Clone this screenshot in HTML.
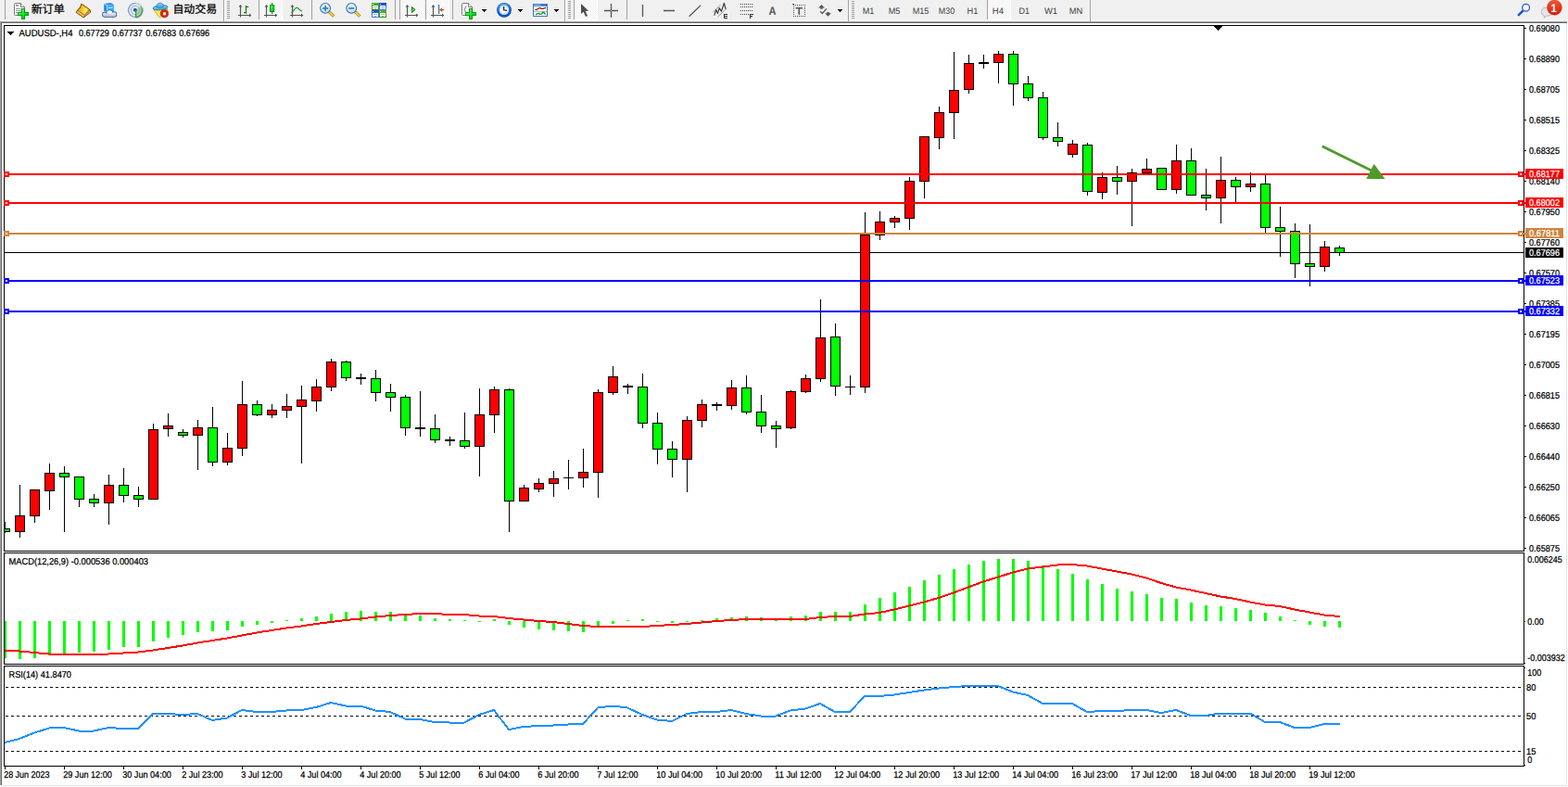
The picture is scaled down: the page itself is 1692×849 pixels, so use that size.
<!DOCTYPE html><html><head><meta charset="utf-8"><title>AUDUSD H4</title><style>html,body{margin:0;padding:0;background:#fff}body{width:1692px;height:849px;overflow:hidden;position:relative}svg{position:absolute;left:0;top:0;display:block}text{font-family:"Liberation Sans",sans-serif;white-space:pre;text-rendering:geometricPrecision}</style></head><body>
<svg width="1692" height="849" viewBox="0 0 1692 849">
<g shape-rendering="crispEdges">
<rect x="0" y="0" width="1692" height="849" fill="#fff"/>
<rect x="0" y="0" width="1692" height="21" fill="#f0f0f0"/>
<rect x="0" y="21" width="1692" height="2" fill="#f4f4f4"/>
<rect x="0" y="23" width="1691" height="1" fill="#a0a0a0"/>
<rect x="1" y="24" width="1690" height="1" fill="#696969"/>
<rect x="0" y="24" width="1" height="823" fill="#a0a0a0"/>
<rect x="1" y="25" width="1" height="822" fill="#696969"/>
<rect x="1690" y="25" width="1" height="823" fill="#e3e3e3"/>
<rect x="2" y="847" width="1689" height="1" fill="#e3e3e3"/>
<rect x="4" y="27" width="1641" height="1" fill="#000"/>
<rect x="4" y="594" width="1641" height="1" fill="#000"/>
<rect x="4" y="27" width="1" height="568" fill="#000"/>
<rect x="1644" y="27" width="1" height="568" fill="#000"/>
<rect x="4" y="596" width="1641" height="1" fill="#000"/>
<rect x="4" y="716" width="1641" height="1" fill="#000"/>
<rect x="4" y="596" width="1" height="121" fill="#000"/>
<rect x="1644" y="596" width="1" height="121" fill="#000"/>
<rect x="4" y="718" width="1641" height="1" fill="#000"/>
<rect x="4" y="826" width="1641" height="1" fill="#000"/>
<rect x="4" y="718" width="1" height="109" fill="#000"/>
<rect x="1644" y="718" width="1" height="109" fill="#000"/>
</g>
<defs>
<linearGradient id="gplus" x1="0" y1="0" x2="1" y2="1"><stop offset="0" stop-color="#9dffa0"/><stop offset="0.5" stop-color="#12e832"/><stop offset="1" stop-color="#00b414"/></linearGradient>
<linearGradient id="ggold" x1="0" y1="0.3" x2="1" y2="0.5"><stop offset="0" stop-color="#e6ac10"/><stop offset="0.45" stop-color="#f4cc28"/><stop offset="0.8" stop-color="#fff27a"/><stop offset="1" stop-color="#f0c430"/></linearGradient>
<linearGradient id="gcloud" gradientUnits="userSpaceOnUse" x1="0" y1="11.5" x2="0" y2="18.4"><stop offset="0" stop-color="#ffffff"/><stop offset="0.35" stop-color="#eef1f7"/><stop offset="1" stop-color="#9fb0d0"/></linearGradient>
<linearGradient id="gred" x1="0" y1="0" x2="0" y2="1"><stop offset="0" stop-color="#ea5a36"/><stop offset="1" stop-color="#d81c08"/></linearGradient>
<linearGradient id="glens" x1="0" y1="0" x2="0" y2="1"><stop offset="0" stop-color="#eef7fd"/><stop offset="1" stop-color="#b9dcf2"/></linearGradient>
<linearGradient id="gclock" x1="0.3" y1="0" x2="0.5" y2="1"><stop offset="0" stop-color="#56b4ff"/><stop offset="0.5" stop-color="#1470e0"/><stop offset="1" stop-color="#0a50c0"/></linearGradient>
<linearGradient id="ghat" x1="0" y1="0" x2="0" y2="1"><stop offset="0" stop-color="#8fd2f4"/><stop offset="1" stop-color="#3fa0dc"/></linearGradient>
<linearGradient id="gyel" x1="0" y1="0" x2="1" y2="1"><stop offset="0" stop-color="#f8d838"/><stop offset="1" stop-color="#fff888"/></linearGradient>
<linearGradient id="ggrn2" x1="0" y1="0" x2="0" y2="1"><stop offset="0" stop-color="#56b030"/><stop offset="1" stop-color="#2f8c14"/></linearGradient>
<linearGradient id="gblu2" x1="0" y1="0" x2="0" y2="1"><stop offset="0" stop-color="#1848c8"/><stop offset="1" stop-color="#4c86ec"/></linearGradient>
<pattern id="chk" width="2" height="2" patternUnits="userSpaceOnUse"><rect width="2" height="2" fill="#ffffff"/><rect width="1" height="1" fill="#f0f0f0"/><rect x="1" y="1" width="1" height="1" fill="#f0f0f0"/></pattern>
<radialGradient id="gsweep" cx="0" cy="0" r="1"><stop offset="0" stop-color="#2aa02a" stop-opacity="0.15"/><stop offset="1" stop-color="#2aa02a" stop-opacity="0.75"/></radialGradient>
</defs>
<g shape-rendering="crispEdges">
<rect x="279" y="0" width="1" height="21" fill="#a0a0a0"/>
<rect x="336" y="0" width="1" height="21" fill="#a0a0a0"/>
<rect x="431" y="0" width="1" height="21" fill="#a0a0a0"/>
<rect x="459" y="0" width="1" height="21" fill="#a0a0a0"/>
<rect x="488" y="0" width="1" height="21" fill="#a0a0a0"/>
<rect x="619" y="0" width="1" height="21" fill="#a0a0a0"/>
<rect x="676" y="0" width="1" height="21" fill="#a0a0a0"/>
<rect x="1065" y="0" width="1" height="21" fill="#a0a0a0"/>
<rect x="5" y="0" width="1" height="21" fill="#a0a0a0"/>
<rect x="426" y="0" width="1" height="21" fill="#a0a0a0"/>
<rect x="241" y="0" width="1" height="23" fill="#a0a0a0"/>
<rect x="242" y="0" width="1" height="23" fill="#ffffff"/>
<rect x="609" y="0" width="1" height="23" fill="#a0a0a0"/>
<rect x="610" y="0" width="1" height="23" fill="#ffffff"/>
<rect x="915" y="0" width="1" height="23" fill="#a0a0a0"/>
<rect x="916" y="0" width="1" height="23" fill="#ffffff"/>
<rect x="1176" y="0" width="1" height="23" fill="#a0a0a0"/>
<rect x="1177" y="0" width="1" height="23" fill="#ffffff"/>
<rect x="245" y="1" width="3" height="1" fill="#a0a0a0"/>
<rect x="245" y="3" width="3" height="1" fill="#a0a0a0"/>
<rect x="245" y="5" width="3" height="1" fill="#a0a0a0"/>
<rect x="245" y="7" width="3" height="1" fill="#a0a0a0"/>
<rect x="245" y="9" width="3" height="1" fill="#a0a0a0"/>
<rect x="245" y="11" width="3" height="1" fill="#a0a0a0"/>
<rect x="245" y="13" width="3" height="1" fill="#a0a0a0"/>
<rect x="245" y="15" width="3" height="1" fill="#a0a0a0"/>
<rect x="245" y="17" width="3" height="1" fill="#a0a0a0"/>
<rect x="245" y="19" width="3" height="1" fill="#a0a0a0"/>
<rect x="613" y="1" width="3" height="1" fill="#a0a0a0"/>
<rect x="613" y="3" width="3" height="1" fill="#a0a0a0"/>
<rect x="613" y="5" width="3" height="1" fill="#a0a0a0"/>
<rect x="613" y="7" width="3" height="1" fill="#a0a0a0"/>
<rect x="613" y="9" width="3" height="1" fill="#a0a0a0"/>
<rect x="613" y="11" width="3" height="1" fill="#a0a0a0"/>
<rect x="613" y="13" width="3" height="1" fill="#a0a0a0"/>
<rect x="613" y="15" width="3" height="1" fill="#a0a0a0"/>
<rect x="613" y="17" width="3" height="1" fill="#a0a0a0"/>
<rect x="613" y="19" width="3" height="1" fill="#a0a0a0"/>
<rect x="919" y="1" width="3" height="1" fill="#a0a0a0"/>
<rect x="919" y="3" width="3" height="1" fill="#a0a0a0"/>
<rect x="919" y="5" width="3" height="1" fill="#a0a0a0"/>
<rect x="919" y="7" width="3" height="1" fill="#a0a0a0"/>
<rect x="919" y="9" width="3" height="1" fill="#a0a0a0"/>
<rect x="919" y="11" width="3" height="1" fill="#a0a0a0"/>
<rect x="919" y="13" width="3" height="1" fill="#a0a0a0"/>
<rect x="919" y="15" width="3" height="1" fill="#a0a0a0"/>
<rect x="919" y="17" width="3" height="1" fill="#a0a0a0"/>
<rect x="919" y="19" width="3" height="1" fill="#a0a0a0"/>
<rect x="280" y="0" width="24" height="21" fill="url(#chk)"/>
<rect x="304" y="0" width="1" height="22" fill="#fff"/>
<rect x="279" y="21" width="25" height="1" fill="#fff"/>
<rect x="432" y="0" width="24" height="21" fill="url(#chk)"/>
<rect x="456" y="0" width="1" height="22" fill="#fff"/>
<rect x="431" y="21" width="25" height="1" fill="#fff"/>
<rect x="460" y="0" width="24" height="21" fill="url(#chk)"/>
<rect x="484" y="0" width="1" height="22" fill="#fff"/>
<rect x="459" y="21" width="25" height="1" fill="#fff"/>
<rect x="620" y="0" width="24" height="21" fill="url(#chk)"/>
<rect x="644" y="0" width="1" height="22" fill="#fff"/>
<rect x="619" y="21" width="25" height="1" fill="#fff"/>
<rect x="1066" y="0" width="24" height="21" fill="url(#chk)"/>
<rect x="1090" y="0" width="1" height="22" fill="#fff"/>
<rect x="1065" y="21" width="25" height="1" fill="#fff"/>
</g>
<path d="M16.5,3.5 H22.5 L26.5,7.5 V15.5 Q26.5,16.5 25.5,16.5 H16.5 Q15.5,16.5 15.5,15.5 V4.5 Q15.5,3.5 16.5,3.5 Z" fill="#fff" stroke="#7a7a7a" stroke-width="1"/>
<path d="M22.5,3.5 V7.5 H26.5" fill="#f4f4f4" stroke="#7a7a7a" stroke-width="1"/>
<rect x="17" y="5" width="3" height="1.6" fill="#8a8a8a"/>
<rect x="17" y="9" width="5.5" height="0.9" fill="#8a8a8a"/>
<rect x="17" y="11" width="5.5" height="0.9" fill="#8a8a8a"/>
<rect x="17" y="13" width="5.5" height="0.9" fill="#8a8a8a"/>
<path d="M23,9 h4 v4 h4 v4 h-4 v4 h-4 v-4 h-4 v-4 h4 z" fill="#049a08"/>
<path d="M24,10 h2 v4 h4 v2 h-4 v4 h-2 v-4 h-4 v-2 h4 z" fill="url(#gplus)"/>
<text x="33.7" y="14.1" font-size="12" fill="#000" stroke="#000" stroke-width="0.26" textLength="36" lengthAdjust="spacingAndGlyphs" style="font-family:'Liberation Sans','Noto Sans CJK SC',sans-serif">新订单</text>
<text x="186.4" y="14.1" font-size="11.95" fill="#000" stroke="#000" stroke-width="0.26" textLength="47.8" lengthAdjust="spacingAndGlyphs" style="font-family:'Liberation Sans','Noto Sans CJK SC',sans-serif">自动交易</text>
<path d="M87.9,4.2 L96.8,10.4 L97.8,12.9 L90.3,18.7 L82.2,13.2 L83.4,11.4 L86.4,8.2 Z" fill="#b07a14" stroke="#96580a" stroke-width="1.1" stroke-linejoin="round"/>
<path d="M88.3,5.2 L95.8,10.5 L91.2,15.6 L84.4,11.2 L87.2,8.4 Z" fill="url(#ggold)"/>
<path d="M83.7,12.1 L90.8,16.8 L90.1,18 L83,13.2 Z" fill="#fbe7a0"/>
<path d="M83.3,12.9 L90.3,17.6" stroke="#e0a830" stroke-width="0.7" fill="none"/>
<path d="M91.7,16.7 L96.5,11.8 L97,12.9 L91.1,17.8 Z" fill="#e6d49a"/>
<path d="M91.5,17.3 L96.8,12.4" stroke="#a8843c" stroke-width="0.5" fill="none"/>
<path d="M112.2,4 L115.6,5.8 V13 L112.2,12 Z" fill="#0a8ef0"/>
<path d="M112.2,4 L119.5,3.1 L122.9,5 L115.6,5.8 Z" fill="#4a7ee0"/>
<path d="M115.6,5.8 L122.9,5 V13 H115.6 Z" fill="#2cacff"/>
<path d="M112.5,4.3 L115.6,6 V13" fill="none" stroke="#dff2ff" stroke-width="0.8"/>
<rect x="117" y="7.8" width="4.6" height="1" fill="#e8f6ff"/>
<g fill="#46609a"><circle cx="113" cy="15.8" r="2.95"/><circle cx="118.3" cy="14.3" r="3.85"/><circle cx="123" cy="15.6" r="3.25"/><rect x="112.8" y="15.5" width="10.4" height="3.35"/></g>
<g fill="url(#gcloud)"><circle cx="113" cy="15.8" r="2.15"/><circle cx="118.3" cy="14.3" r="3.05"/><circle cx="123" cy="15.6" r="2.4499999999999997"/><rect x="112.8" y="15.5" width="10.4" height="2.55"/></g>
<circle cx="146" cy="11" r="7.4" fill="none" stroke="#3564c8" stroke-width="1.5" stroke-opacity="0.55"/>
<circle cx="146" cy="11" r="4.6" fill="none" stroke="#3564c8" stroke-width="1.4" stroke-opacity="0.4"/>
<path d="M146.3,11 L146.3,19 A8,8 0 0 0 152.4,6.2 Z" fill="#5fb04c" fill-opacity="0.42"/>
<path d="M147,18.9 A8,8 0 0 0 153.6,8.6" fill="none" stroke="#2f8a3a" stroke-width="1.5" stroke-opacity="0.6"/>
<path d="M146,3.4 A7.6,7.6 0 0 1 152.4,6.6" fill="none" stroke="#cfe6cf" stroke-width="1.6" stroke-opacity="0.8"/>
<circle cx="145.8" cy="10.8" r="2" fill="#2250c8"/>
<rect x="146" y="11" width="1.2" height="7.9" fill="#1fa01f"/>
<path d="M165.6,10 L180.6,9.4 L180.4,11.4 L173.2,18.6 L171.8,18.6 Z" fill="url(#gyel)" stroke="#c89a08" stroke-width="0.8" stroke-linejoin="round"/>
<ellipse cx="173" cy="8.2" rx="8" ry="2.5" transform="rotate(-6 173 8.2)" fill="url(#ghat)" stroke="#1f86b4" stroke-width="0.9"/>
<path d="M168.8,7.6 C168.6,2.2 176.2,1.8 176.6,6.8 C175,8.6 170.6,8.8 168.8,7.6 Z" fill="url(#ghat)" stroke="#1f86b4" stroke-width="0.9"/>
<circle cx="177.4" cy="14.7" r="4.1" fill="#e22606" stroke="#b81c04" stroke-width="0.8"/>
<rect x="176" y="13.3" width="3" height="3" fill="#fff"/>
<path d="M259.5,18.6 V6 M257,16.5 H270" fill="none" stroke="#555" stroke-width="1.2"/>
<path d="M257.5,7.4 L259.5,5 L261.5,7.4 Z M269,14.6 L271.4,16.5 L269,18.4 Z" fill="#555"/>
<path d="M263,13.6 H265.5 M265.5,6.1 V14.7 M265.5,7.4 H268.2" fill="none" stroke="#0c8a0c" stroke-width="1.3"/>
<path d="M287.5,18.6 V6 M285,16.5 H298" fill="none" stroke="#555" stroke-width="1.2"/>
<path d="M285.5,7.4 L287.5,5 L289.5,7.4 Z M297,14.6 L299.4,16.5 L297,18.4 Z" fill="#555"/>
<rect x="293" y="3" width="1.2" height="12" fill="#0c8a0c"/><rect x="291.5" y="5.7" width="4.2" height="6.8" fill="url(#gplus)" stroke="#0c8a0c" stroke-width="1"/>
<path d="M315.5,18.6 V6 M313,16.5 H326" fill="none" stroke="#555" stroke-width="1.2"/>
<path d="M313.5,7.4 L315.5,5 L317.5,7.4 Z M325,14.6 L327.4,16.5 L325,18.4 Z" fill="#555"/>
<path d="M314.3,13.8 C317,12 318.5,8 320.3,8.2 C322,8.4 323.5,11.6 326,12.2" fill="none" stroke="#2a9a2a" stroke-width="1.3"/>
<path d="M354.70000000000005,12.4 L360.3,17.6" stroke="#a8800c" stroke-width="3.2"/>
<path d="M354.70000000000005,12.4 L360.0,17.3" stroke="#f2d648" stroke-width="1.7"/>
<circle cx="351.1" cy="8.9" r="5.4" fill="url(#glens)" stroke="#2f72b8" stroke-width="1.1"/>
<rect x="348.1" y="8.1" width="6" height="1.7" fill="#3a7fa8"/>
<rect x="350.25" y="5.9" width="1.7" height="6" fill="#3a7fa8"/>
<path d="M382.8,12.4 L388.4,17.6" stroke="#a8800c" stroke-width="3.2"/>
<path d="M382.8,12.4 L388.09999999999997,17.3" stroke="#f2d648" stroke-width="1.7"/>
<circle cx="379.2" cy="8.9" r="5.4" fill="url(#glens)" stroke="#2f72b8" stroke-width="1.1"/>
<rect x="376.2" y="8.1" width="6" height="1.7" fill="#3a7fa8"/>
<g shape-rendering="crispEdges"><rect x="401" y="3" width="8" height="8" fill="url(#ggrn2)"/><rect x="402" y="6" width="6" height="4" fill="#fff"/><rect x="403" y="7" width="4" height="1" fill="#8fd07c"/><rect x="404" y="9" width="2" height="1" fill="#8fd07c"/><rect x="402" y="4" width="1" height="1" fill="#e8f4e8"/></g>
<g shape-rendering="crispEdges"><rect x="409" y="3" width="8" height="8" fill="url(#gblu2)"/><rect x="410" y="6" width="6" height="4" fill="#fff"/><rect x="411" y="7" width="4" height="1" fill="#8fb0f4"/><rect x="412" y="9" width="2" height="1" fill="#8fb0f4"/><rect x="410" y="4" width="1" height="1" fill="#e8f4e8"/></g>
<g shape-rendering="crispEdges"><rect x="401" y="11" width="8" height="8" fill="url(#gblu2)"/><rect x="402" y="14" width="6" height="4" fill="#fff"/><rect x="403" y="15" width="4" height="1" fill="#8fb0f4"/><rect x="404" y="17" width="2" height="1" fill="#8fb0f4"/><rect x="402" y="12" width="1" height="1" fill="#e8f4e8"/></g>
<g shape-rendering="crispEdges"><rect x="409" y="11" width="8" height="8" fill="url(#ggrn2)"/><rect x="410" y="14" width="6" height="4" fill="#fff"/><rect x="411" y="15" width="4" height="1" fill="#8fd07c"/><rect x="412" y="17" width="2" height="1" fill="#8fd07c"/><rect x="410" y="12" width="1" height="1" fill="#e8f4e8"/></g>
<path d="M439.5,18.6 V6 M437,16.5 H450" fill="none" stroke="#555" stroke-width="1.2"/>
<path d="M437.5,7.4 L439.5,5 L441.5,7.4 Z M449,14.6 L451.4,16.5 L449,18.4 Z" fill="#555"/>
<path d="M444.4,7.6 L447.7,10.5 L444.4,13.4 Z" fill="#7be07b" stroke="#159015" stroke-width="1.1" stroke-linejoin="round"/>
<path d="M467.5,18.6 V6 M465,16.5 H478" fill="none" stroke="#555" stroke-width="1.2"/>
<path d="M465.5,7.4 L467.5,5 L469.5,7.4 Z M477,14.6 L479.4,16.5 L477,18.4 Z" fill="#555"/>
<rect x="473" y="5" width="1.2" height="10" fill="#2a7ab0"/>
<path d="M474,10.6 L477.4,8.2 L476.8,10 L479.2,10 V11.2 L476.8,11.2 L477.4,13 Z" fill="#d84808"/>
<path d="M499.5,3.5 H505.5 L509.5,7.5 V15.5 Q509.5,16.5 508.5,16.5 H499.5 Q498.5,16.5 498.5,15.5 V4.5 Q498.5,3.5 499.5,3.5 Z" fill="#fff" stroke="#7a7a7a" stroke-width="1"/>
<path d="M505.5,3.5 V7.5 H509.5" fill="#f4f4f4" stroke="#7a7a7a" stroke-width="1"/>
<path d="M503.5,7 C501.5,7 502.5,10 501,10.4 C502.5,10.8 501.5,14 503.5,14" fill="none" stroke="#666" stroke-width="1"/>
<path d="M506,9 h4 v4 h4 v4 h-4 v4 h-4 v-4 h-4 v-4 h4 z" fill="#049a08"/>
<path d="M507,10 h2 v4 h4 v2 h-4 v4 h-2 v-4 h-4 v-2 h4 z" fill="url(#gplus)"/>
<g shape-rendering="crispEdges" fill="#000"><rect x="520" y="10" width="5" height="1"/><rect x="521" y="11" width="3" height="1"/><rect x="522" y="12" width="1" height="1"/></g>
<g shape-rendering="crispEdges" fill="#000"><rect x="559" y="10" width="5" height="1"/><rect x="560" y="11" width="3" height="1"/><rect x="561" y="12" width="1" height="1"/></g>
<g shape-rendering="crispEdges" fill="#000"><rect x="598" y="10" width="5" height="1"/><rect x="599" y="11" width="3" height="1"/><rect x="600" y="12" width="1" height="1"/></g>
<g shape-rendering="crispEdges" fill="#000"><rect x="904" y="10" width="5" height="1"/><rect x="905" y="11" width="3" height="1"/><rect x="906" y="12" width="1" height="1"/></g>
<circle cx="544" cy="10.9" r="7.9" fill="#0a4aa2"/>
<circle cx="544" cy="10.8" r="7.3" fill="url(#gclock)"/>
<circle cx="544" cy="10.8" r="5.2" fill="#f4f6f8"/>
<circle cx="544.00" cy="6.50" r="0.4" fill="#8a8a8a"/>
<circle cx="546.15" cy="7.08" r="0.4" fill="#8a8a8a"/>
<circle cx="547.72" cy="8.65" r="0.4" fill="#8a8a8a"/>
<circle cx="548.30" cy="10.80" r="0.4" fill="#8a8a8a"/>
<circle cx="547.72" cy="12.95" r="0.4" fill="#8a8a8a"/>
<circle cx="546.15" cy="14.52" r="0.4" fill="#8a8a8a"/>
<circle cx="544.00" cy="15.10" r="0.4" fill="#8a8a8a"/>
<circle cx="541.85" cy="14.52" r="0.4" fill="#8a8a8a"/>
<circle cx="540.28" cy="12.95" r="0.4" fill="#8a8a8a"/>
<circle cx="539.70" cy="10.80" r="0.4" fill="#8a8a8a"/>
<circle cx="540.28" cy="8.65" r="0.4" fill="#8a8a8a"/>
<circle cx="541.85" cy="7.08" r="0.4" fill="#8a8a8a"/>
<rect x="543" y="14.4" width="2" height="0.9" fill="#7ab8f8"/>
<path d="M543.6,7 V10.8 L547,11.4" fill="none" stroke="#222" stroke-width="1.3"/>
<rect x="575.5" y="4.5" width="15" height="13" fill="#fff" stroke="#3a76c0" stroke-width="1"/>
<rect x="575" y="4" width="16" height="2.8" fill="#3a78c8"/><rect x="576.4" y="4.9" width="7" height="0.9" fill="#a8ccf0"/><rect x="576" y="11.8" width="14" height="0.9" fill="#7aa8dc"/>
<path d="M577.4,10.4 H579.2 L581,9.3 L582.6,8.4 L584.4,9.4 H586.2 L588,8.6 L589.2,8.4" fill="none" stroke="#9a1a00" stroke-width="1.3"/>
<path d="M578,15.5 L579.6,15.2 L581,14.3 L582.6,15.4 L584.2,15.2 L586,13.3 L587,13.5 L588.6,15.7" fill="none" stroke="#128a18" stroke-width="1.3"/>
<path d="M627,4 V15 L629.6,12.8 L632,18 L634,17.1 L631.7,12.1 L635,11.8 Z" fill="#4d4d4d"/>
<path d="M659.5,4 V19 M652,11.5 H667" fill="none" stroke="#555" stroke-width="1.3"/><rect x="659" y="11" width="1" height="1" fill="#aaa"/>
<path d="M693.5,5 V18 M716,11.5 H728 M743.6,17.8 L756.2,5.6" fill="none" stroke="#555" stroke-width="1.3"/>
<path d="M769.5,12.8 L777.8,5 M774.8,18 L784.3,9" fill="none" stroke="#555" stroke-width="0.9" stroke-dasharray="1 0.6"/>
<path d="M770.8,16.6 L772.6,10.6 L774.4,14.6 L776.2,8.6 L778.4,12.2 L781.4,3.4 L783,9.6" fill="none" stroke="#3c3c3c" stroke-width="1.2" stroke-linejoin="round"/>
<g shape-rendering="crispEdges" fill="#333"><rect x="781" y="15" width="1.4" height="5"/><rect x="781" y="15" width="4" height="1"/><rect x="781" y="17" width="3.6" height="1"/><rect x="781" y="19" width="4" height="1"/>
<rect x="809" y="15" width="1.4" height="5"/><rect x="809" y="15" width="4" height="1"/><rect x="809" y="17" width="3.4" height="1"/></g>
<g shape-rendering="crispEdges" fill="#444">
<rect x="799" y="4" width="1" height="1"/>
<rect x="801" y="4" width="1" height="1"/>
<rect x="803" y="4" width="1" height="1"/>
<rect x="805" y="4" width="1" height="1"/>
<rect x="807" y="4" width="1" height="1"/>
<rect x="809" y="4" width="1" height="1"/>
<rect x="811" y="4" width="1" height="1"/>
<rect x="799" y="7" width="1" height="1"/>
<rect x="801" y="7" width="1" height="1"/>
<rect x="803" y="7" width="1" height="1"/>
<rect x="805" y="7" width="1" height="1"/>
<rect x="807" y="7" width="1" height="1"/>
<rect x="809" y="7" width="1" height="1"/>
<rect x="811" y="7" width="1" height="1"/>
<rect x="799" y="11" width="1" height="1"/>
<rect x="801" y="11" width="1" height="1"/>
<rect x="803" y="11" width="1" height="1"/>
<rect x="805" y="11" width="1" height="1"/>
<rect x="807" y="11" width="1" height="1"/>
<rect x="809" y="11" width="1" height="1"/>
<rect x="811" y="11" width="1" height="1"/>
<rect x="799" y="15" width="1" height="1"/>
<rect x="801" y="15" width="1" height="1"/>
<rect x="803" y="15" width="1" height="1"/>
<rect x="805" y="15" width="1" height="1"/>
<rect x="807" y="15" width="1" height="1"/>
</g>
<text x="829.6" y="16" font-size="12.5" font-weight="bold" fill="#555" textLength="8" lengthAdjust="spacingAndGlyphs">A</text>
<g shape-rendering="crispEdges" fill="#555">
<rect x="856" y="5" width="1" height="1"/><rect x="856" y="17" width="1" height="1"/>
<rect x="858" y="5" width="1" height="1"/><rect x="858" y="17" width="1" height="1"/>
<rect x="860" y="5" width="1" height="1"/><rect x="860" y="17" width="1" height="1"/>
<rect x="862" y="5" width="1" height="1"/><rect x="862" y="17" width="1" height="1"/>
<rect x="864" y="5" width="1" height="1"/><rect x="864" y="17" width="1" height="1"/>
<rect x="866" y="5" width="1" height="1"/><rect x="866" y="17" width="1" height="1"/>
<rect x="868" y="5" width="1" height="1"/><rect x="868" y="17" width="1" height="1"/>
<rect x="856" y="7" width="1" height="1"/><rect x="868" y="7" width="1" height="1"/>
<rect x="856" y="9" width="1" height="1"/><rect x="868" y="9" width="1" height="1"/>
<rect x="856" y="11" width="1" height="1"/><rect x="868" y="11" width="1" height="1"/>
<rect x="856" y="13" width="1" height="1"/><rect x="868" y="13" width="1" height="1"/>
<rect x="856" y="15" width="1" height="1"/><rect x="868" y="15" width="1" height="1"/>
<rect x="855" y="4" width="2" height="1"/></g>
<path d="M858.6,8.7 H866 M862.3,8.7 V16" fill="none" stroke="#555" stroke-width="1.6"/>
<path d="M886.5,5 L889.9,8.6 H887.7 V9.8 H885.3 V8.6 H883.1 Z M893.5,17.8 L890.1,14.2 H892.3 V13.1 H894.7 V14.2 H896.9 Z" fill="#555"/>
<path d="M885.1,12.3 L887.4,14.5 L891.9,9.4" fill="none" stroke="#555" stroke-width="1.3"/>
<text x="930.7" y="14.9" font-size="9.5" fill="#3c3c3c" textLength="12.6" lengthAdjust="spacingAndGlyphs">M1</text>
<text x="958.8" y="14.9" font-size="9.5" fill="#3c3c3c" textLength="12.6" lengthAdjust="spacingAndGlyphs">M5</text>
<text x="984.7" y="14.9" font-size="9.5" fill="#3c3c3c" textLength="17.7" lengthAdjust="spacingAndGlyphs">M15</text>
<text x="1012.8" y="14.9" font-size="9.5" fill="#3c3c3c" textLength="17.4" lengthAdjust="spacingAndGlyphs">M30</text>
<text x="1043.5" y="14.9" font-size="9.5" fill="#3c3c3c" textLength="11.8" lengthAdjust="spacingAndGlyphs">H1</text>
<text x="1070.8" y="14.9" font-size="9.5" fill="#3c3c3c" textLength="12.2" lengthAdjust="spacingAndGlyphs">H4</text>
<text x="1099.6" y="14.9" font-size="9.5" fill="#3c3c3c" textLength="11.5" lengthAdjust="spacingAndGlyphs">D1</text>
<text x="1127" y="14.9" font-size="9.5" fill="#3c3c3c" textLength="14.0" lengthAdjust="spacingAndGlyphs">W1</text>
<text x="1153.7" y="14.9" font-size="9.5" fill="#3c3c3c" textLength="14.4" lengthAdjust="spacingAndGlyphs">MN</text>
<path d="M1643.6,11.4 L1638.8,16.2" stroke="#2454cc" stroke-width="2.6" stroke-linecap="round"/>
<circle cx="1646.6" cy="8.3" r="3.9" fill="#fdfdff" stroke="#2a5ad4" stroke-width="1.3"/>
<path d="M1663.4,12.6 C1663.4,9.6 1666,8 1669.4,8 C1672.8,8 1675.4,9.8 1675.4,12.8 C1675.4,15.8 1672.6,17.2 1669.6,17.2 L1668.2,17.2 L1666.6,19.4 L1666.2,16.8 C1664.4,16 1663.4,14.6 1663.4,12.6 Z" fill="#e4e6ea" stroke="#b0b0b0" stroke-width="0.9"/>
<circle cx="1677.4" cy="8.1" r="8.3" fill="url(#gred)"/>
<text x="1673.6" y="13.2" font-size="12.5" font-weight="bold" fill="#fff" textLength="6.2" lengthAdjust="spacingAndGlyphs">1</text>
<g shape-rendering="crispEdges">
<rect x="1310" y="28" width="9" height="1" fill="#000"/>
<rect x="1311" y="29" width="7" height="1" fill="#000"/>
<rect x="1312" y="30" width="5" height="1" fill="#000"/>
<rect x="1313" y="31" width="3" height="1" fill="#000"/>
<rect x="1314" y="32" width="1" height="1" fill="#000"/>
<rect x="5" y="272" width="1640" height="1" fill="#000"/>
<rect x="5" y="563" width="1" height="12" fill="#000"/>
<rect x="5" y="570" width="6" height="4" fill="#000"/>
<rect x="5" y="571" width="5" height="2" fill="#00ff00"/>
<rect x="21" y="523" width="1" height="57" fill="#000"/>
<rect x="16" y="556" width="11" height="18" fill="#000"/>
<rect x="17" y="557" width="9" height="16" fill="#ff0000"/>
<rect x="37" y="528" width="1" height="36" fill="#000"/>
<rect x="32" y="528" width="11" height="29" fill="#000"/>
<rect x="33" y="529" width="9" height="27" fill="#ff0000"/>
<rect x="53" y="500" width="1" height="50" fill="#000"/>
<rect x="48" y="510" width="11" height="20" fill="#000"/>
<rect x="49" y="511" width="9" height="18" fill="#ff0000"/>
<rect x="69" y="503" width="1" height="71" fill="#000"/>
<rect x="64" y="510" width="11" height="5" fill="#000"/>
<rect x="65" y="511" width="9" height="3" fill="#00ff00"/>
<rect x="85" y="514" width="1" height="33" fill="#000"/>
<rect x="80" y="514" width="11" height="25" fill="#000"/>
<rect x="81" y="515" width="9" height="23" fill="#00ff00"/>
<rect x="101" y="533" width="1" height="14" fill="#000"/>
<rect x="96" y="538" width="11" height="5" fill="#000"/>
<rect x="97" y="539" width="9" height="3" fill="#00ff00"/>
<rect x="117" y="512" width="1" height="54" fill="#000"/>
<rect x="112" y="523" width="11" height="20" fill="#000"/>
<rect x="113" y="524" width="9" height="18" fill="#ff0000"/>
<rect x="133" y="505" width="1" height="37" fill="#000"/>
<rect x="128" y="523" width="11" height="12" fill="#000"/>
<rect x="129" y="524" width="9" height="10" fill="#00ff00"/>
<rect x="149" y="525" width="1" height="22" fill="#000"/>
<rect x="144" y="534" width="11" height="5" fill="#000"/>
<rect x="145" y="535" width="9" height="3" fill="#00ff00"/>
<rect x="165" y="457" width="1" height="82" fill="#000"/>
<rect x="160" y="463" width="11" height="76" fill="#000"/>
<rect x="161" y="464" width="9" height="74" fill="#ff0000"/>
<rect x="181" y="446" width="1" height="25" fill="#000"/>
<rect x="176" y="459" width="11" height="4" fill="#000"/>
<rect x="177" y="460" width="9" height="2" fill="#ff0000"/>
<rect x="197" y="463" width="1" height="9" fill="#000"/>
<rect x="192" y="466" width="11" height="4" fill="#000"/>
<rect x="193" y="467" width="9" height="2" fill="#00ff00"/>
<rect x="213" y="453" width="1" height="54" fill="#000"/>
<rect x="208" y="461" width="11" height="9" fill="#000"/>
<rect x="209" y="462" width="9" height="7" fill="#ff0000"/>
<rect x="229" y="439" width="1" height="64" fill="#000"/>
<rect x="224" y="461" width="11" height="38" fill="#000"/>
<rect x="225" y="462" width="9" height="36" fill="#00ff00"/>
<rect x="245" y="467" width="1" height="35" fill="#000"/>
<rect x="240" y="483" width="11" height="16" fill="#000"/>
<rect x="241" y="484" width="9" height="14" fill="#ff0000"/>
<rect x="261" y="411" width="1" height="81" fill="#000"/>
<rect x="256" y="436" width="11" height="48" fill="#000"/>
<rect x="257" y="437" width="9" height="46" fill="#ff0000"/>
<rect x="277" y="432" width="1" height="17" fill="#000"/>
<rect x="272" y="436" width="11" height="12" fill="#000"/>
<rect x="273" y="437" width="9" height="10" fill="#00ff00"/>
<rect x="293" y="436" width="1" height="15" fill="#000"/>
<rect x="288" y="442" width="11" height="6" fill="#000"/>
<rect x="289" y="443" width="9" height="4" fill="#ff0000"/>
<rect x="309" y="425" width="1" height="26" fill="#000"/>
<rect x="304" y="438" width="11" height="5" fill="#000"/>
<rect x="305" y="439" width="9" height="3" fill="#ff0000"/>
<rect x="325" y="416" width="1" height="84" fill="#000"/>
<rect x="320" y="431" width="11" height="8" fill="#000"/>
<rect x="321" y="432" width="9" height="6" fill="#ff0000"/>
<rect x="341" y="409" width="1" height="35" fill="#000"/>
<rect x="336" y="417" width="11" height="16" fill="#000"/>
<rect x="337" y="418" width="9" height="14" fill="#ff0000"/>
<rect x="357" y="387" width="1" height="35" fill="#000"/>
<rect x="352" y="390" width="11" height="28" fill="#000"/>
<rect x="353" y="391" width="9" height="26" fill="#ff0000"/>
<rect x="373" y="389" width="1" height="22" fill="#000"/>
<rect x="368" y="390" width="11" height="18" fill="#000"/>
<rect x="369" y="391" width="9" height="16" fill="#00ff00"/>
<rect x="389" y="403" width="1" height="12" fill="#000"/>
<rect x="384" y="407" width="11" height="2" fill="#000"/>
<rect x="405" y="399" width="1" height="34" fill="#000"/>
<rect x="400" y="408" width="11" height="16" fill="#000"/>
<rect x="401" y="409" width="9" height="14" fill="#00ff00"/>
<rect x="421" y="414" width="1" height="30" fill="#000"/>
<rect x="416" y="423" width="11" height="6" fill="#000"/>
<rect x="417" y="424" width="9" height="4" fill="#00ff00"/>
<rect x="437" y="426" width="1" height="44" fill="#000"/>
<rect x="432" y="428" width="11" height="34" fill="#000"/>
<rect x="433" y="429" width="9" height="32" fill="#00ff00"/>
<rect x="453" y="422" width="1" height="49" fill="#000"/>
<rect x="448" y="461" width="11" height="2" fill="#000"/>
<rect x="469" y="447" width="1" height="31" fill="#000"/>
<rect x="464" y="462" width="11" height="13" fill="#000"/>
<rect x="465" y="463" width="9" height="11" fill="#00ff00"/>
<rect x="485" y="471" width="1" height="10" fill="#000"/>
<rect x="480" y="474" width="11" height="2" fill="#000"/>
<rect x="501" y="445" width="1" height="39" fill="#000"/>
<rect x="496" y="475" width="11" height="7" fill="#000"/>
<rect x="497" y="476" width="9" height="5" fill="#00ff00"/>
<rect x="517" y="419" width="1" height="95" fill="#000"/>
<rect x="512" y="447" width="11" height="35" fill="#000"/>
<rect x="513" y="448" width="9" height="33" fill="#ff0000"/>
<rect x="533" y="417" width="1" height="50" fill="#000"/>
<rect x="528" y="420" width="11" height="28" fill="#000"/>
<rect x="529" y="421" width="9" height="26" fill="#ff0000"/>
<rect x="549" y="419" width="1" height="155" fill="#000"/>
<rect x="544" y="420" width="11" height="121" fill="#000"/>
<rect x="545" y="421" width="9" height="119" fill="#00ff00"/>
<rect x="565" y="523" width="1" height="18" fill="#000"/>
<rect x="560" y="526" width="11" height="15" fill="#000"/>
<rect x="561" y="527" width="9" height="13" fill="#ff0000"/>
<rect x="581" y="516" width="1" height="15" fill="#000"/>
<rect x="576" y="521" width="11" height="7" fill="#000"/>
<rect x="577" y="522" width="9" height="5" fill="#ff0000"/>
<rect x="597" y="508" width="1" height="28" fill="#000"/>
<rect x="592" y="516" width="11" height="6" fill="#000"/>
<rect x="593" y="517" width="9" height="4" fill="#ff0000"/>
<rect x="613" y="496" width="1" height="32" fill="#000"/>
<rect x="608" y="515" width="11" height="1" fill="#000"/>
<rect x="629" y="484" width="1" height="42" fill="#000"/>
<rect x="624" y="509" width="11" height="7" fill="#000"/>
<rect x="625" y="510" width="9" height="5" fill="#ff0000"/>
<rect x="645" y="420" width="1" height="117" fill="#000"/>
<rect x="640" y="423" width="11" height="87" fill="#000"/>
<rect x="641" y="424" width="9" height="85" fill="#ff0000"/>
<rect x="661" y="395" width="1" height="31" fill="#000"/>
<rect x="656" y="406" width="11" height="18" fill="#000"/>
<rect x="657" y="407" width="9" height="16" fill="#ff0000"/>
<rect x="677" y="414" width="1" height="11" fill="#000"/>
<rect x="672" y="416" width="11" height="2" fill="#000"/>
<rect x="693" y="403" width="1" height="59" fill="#000"/>
<rect x="688" y="417" width="11" height="40" fill="#000"/>
<rect x="689" y="418" width="9" height="38" fill="#00ff00"/>
<rect x="709" y="445" width="1" height="56" fill="#000"/>
<rect x="704" y="456" width="11" height="29" fill="#000"/>
<rect x="705" y="457" width="9" height="27" fill="#00ff00"/>
<rect x="725" y="476" width="1" height="39" fill="#000"/>
<rect x="720" y="484" width="11" height="12" fill="#000"/>
<rect x="721" y="485" width="9" height="10" fill="#00ff00"/>
<rect x="741" y="449" width="1" height="82" fill="#000"/>
<rect x="736" y="453" width="11" height="43" fill="#000"/>
<rect x="737" y="454" width="9" height="41" fill="#ff0000"/>
<rect x="757" y="431" width="1" height="30" fill="#000"/>
<rect x="752" y="436" width="11" height="18" fill="#000"/>
<rect x="753" y="437" width="9" height="16" fill="#ff0000"/>
<rect x="773" y="434" width="1" height="9" fill="#000"/>
<rect x="768" y="436" width="11" height="2" fill="#000"/>
<rect x="789" y="410" width="1" height="32" fill="#000"/>
<rect x="784" y="418" width="11" height="20" fill="#000"/>
<rect x="785" y="419" width="9" height="18" fill="#ff0000"/>
<rect x="805" y="405" width="1" height="42" fill="#000"/>
<rect x="800" y="418" width="11" height="27" fill="#000"/>
<rect x="801" y="419" width="9" height="25" fill="#00ff00"/>
<rect x="821" y="426" width="1" height="41" fill="#000"/>
<rect x="816" y="444" width="11" height="16" fill="#000"/>
<rect x="817" y="445" width="9" height="14" fill="#00ff00"/>
<rect x="837" y="454" width="1" height="29" fill="#000"/>
<rect x="832" y="459" width="11" height="4" fill="#000"/>
<rect x="833" y="460" width="9" height="2" fill="#00ff00"/>
<rect x="853" y="421" width="1" height="42" fill="#000"/>
<rect x="848" y="422" width="11" height="40" fill="#000"/>
<rect x="849" y="423" width="9" height="38" fill="#ff0000"/>
<rect x="869" y="404" width="1" height="20" fill="#000"/>
<rect x="864" y="408" width="11" height="15" fill="#000"/>
<rect x="865" y="409" width="9" height="13" fill="#ff0000"/>
<rect x="885" y="323" width="1" height="89" fill="#000"/>
<rect x="880" y="364" width="11" height="45" fill="#000"/>
<rect x="881" y="365" width="9" height="43" fill="#ff0000"/>
<rect x="901" y="349" width="1" height="78" fill="#000"/>
<rect x="896" y="363" width="11" height="54" fill="#000"/>
<rect x="897" y="364" width="9" height="52" fill="#00ff00"/>
<rect x="917" y="405" width="1" height="21" fill="#000"/>
<rect x="912" y="417" width="11" height="1" fill="#000"/>
<rect x="933" y="229" width="1" height="195" fill="#000"/>
<rect x="928" y="253" width="11" height="165" fill="#000"/>
<rect x="929" y="254" width="9" height="163" fill="#ff0000"/>
<rect x="949" y="228" width="1" height="31" fill="#000"/>
<rect x="944" y="239" width="11" height="15" fill="#000"/>
<rect x="945" y="240" width="9" height="13" fill="#ff0000"/>
<rect x="965" y="233" width="1" height="13" fill="#000"/>
<rect x="960" y="235" width="11" height="5" fill="#000"/>
<rect x="961" y="236" width="9" height="3" fill="#ff0000"/>
<rect x="981" y="191" width="1" height="57" fill="#000"/>
<rect x="976" y="195" width="11" height="41" fill="#000"/>
<rect x="977" y="196" width="9" height="39" fill="#ff0000"/>
<rect x="997" y="147" width="1" height="67" fill="#000"/>
<rect x="992" y="147" width="11" height="49" fill="#000"/>
<rect x="993" y="148" width="9" height="47" fill="#ff0000"/>
<rect x="1013" y="115" width="1" height="46" fill="#000"/>
<rect x="1008" y="121" width="11" height="28" fill="#000"/>
<rect x="1009" y="122" width="9" height="26" fill="#ff0000"/>
<rect x="1029" y="56" width="1" height="94" fill="#000"/>
<rect x="1024" y="97" width="11" height="25" fill="#000"/>
<rect x="1025" y="98" width="9" height="23" fill="#ff0000"/>
<rect x="1045" y="59" width="1" height="42" fill="#000"/>
<rect x="1040" y="68" width="11" height="29" fill="#000"/>
<rect x="1041" y="69" width="9" height="27" fill="#ff0000"/>
<rect x="1061" y="59" width="1" height="15" fill="#000"/>
<rect x="1056" y="67" width="11" height="2" fill="#000"/>
<rect x="1077" y="55" width="1" height="35" fill="#000"/>
<rect x="1072" y="58" width="11" height="10" fill="#000"/>
<rect x="1073" y="59" width="9" height="8" fill="#ff0000"/>
<rect x="1093" y="55" width="1" height="59" fill="#000"/>
<rect x="1088" y="58" width="11" height="33" fill="#000"/>
<rect x="1089" y="59" width="9" height="31" fill="#00ff00"/>
<rect x="1109" y="82" width="1" height="27" fill="#000"/>
<rect x="1104" y="90" width="11" height="16" fill="#000"/>
<rect x="1105" y="91" width="9" height="14" fill="#00ff00"/>
<rect x="1125" y="99" width="1" height="52" fill="#000"/>
<rect x="1120" y="105" width="11" height="44" fill="#000"/>
<rect x="1121" y="106" width="9" height="42" fill="#00ff00"/>
<rect x="1141" y="132" width="1" height="26" fill="#000"/>
<rect x="1136" y="148" width="11" height="5" fill="#000"/>
<rect x="1137" y="149" width="9" height="3" fill="#00ff00"/>
<rect x="1157" y="151" width="1" height="19" fill="#000"/>
<rect x="1152" y="155" width="11" height="12" fill="#000"/>
<rect x="1153" y="156" width="9" height="10" fill="#ff0000"/>
<rect x="1173" y="154" width="1" height="57" fill="#000"/>
<rect x="1168" y="156" width="11" height="51" fill="#000"/>
<rect x="1169" y="157" width="9" height="49" fill="#00ff00"/>
<rect x="1189" y="186" width="1" height="29" fill="#000"/>
<rect x="1184" y="191" width="11" height="17" fill="#000"/>
<rect x="1185" y="192" width="9" height="15" fill="#ff0000"/>
<rect x="1205" y="179" width="1" height="31" fill="#000"/>
<rect x="1200" y="191" width="11" height="5" fill="#000"/>
<rect x="1201" y="192" width="9" height="3" fill="#00ff00"/>
<rect x="1221" y="182" width="1" height="62" fill="#000"/>
<rect x="1216" y="186" width="11" height="10" fill="#000"/>
<rect x="1217" y="187" width="9" height="8" fill="#ff0000"/>
<rect x="1237" y="171" width="1" height="16" fill="#000"/>
<rect x="1232" y="182" width="11" height="5" fill="#000"/>
<rect x="1233" y="183" width="9" height="3" fill="#ff0000"/>
<rect x="1253" y="181" width="1" height="24" fill="#000"/>
<rect x="1248" y="181" width="11" height="24" fill="#000"/>
<rect x="1249" y="182" width="9" height="22" fill="#00ff00"/>
<rect x="1269" y="156" width="1" height="53" fill="#000"/>
<rect x="1264" y="173" width="11" height="32" fill="#000"/>
<rect x="1265" y="174" width="9" height="30" fill="#ff0000"/>
<rect x="1285" y="160" width="1" height="51" fill="#000"/>
<rect x="1280" y="173" width="11" height="38" fill="#000"/>
<rect x="1281" y="174" width="9" height="36" fill="#00ff00"/>
<rect x="1301" y="182" width="1" height="45" fill="#000"/>
<rect x="1296" y="210" width="11" height="4" fill="#000"/>
<rect x="1297" y="211" width="9" height="2" fill="#00ff00"/>
<rect x="1317" y="169" width="1" height="72" fill="#000"/>
<rect x="1312" y="194" width="11" height="20" fill="#000"/>
<rect x="1313" y="195" width="9" height="18" fill="#ff0000"/>
<rect x="1333" y="191" width="1" height="27" fill="#000"/>
<rect x="1328" y="194" width="11" height="8" fill="#000"/>
<rect x="1329" y="195" width="9" height="6" fill="#00ff00"/>
<rect x="1349" y="186" width="1" height="21" fill="#000"/>
<rect x="1344" y="198" width="11" height="4" fill="#000"/>
<rect x="1345" y="199" width="9" height="2" fill="#ff0000"/>
<rect x="1365" y="189" width="1" height="62" fill="#000"/>
<rect x="1360" y="198" width="11" height="48" fill="#000"/>
<rect x="1361" y="199" width="9" height="46" fill="#00ff00"/>
<rect x="1381" y="223" width="1" height="54" fill="#000"/>
<rect x="1376" y="245" width="11" height="5" fill="#000"/>
<rect x="1377" y="246" width="9" height="3" fill="#00ff00"/>
<rect x="1397" y="241" width="1" height="59" fill="#000"/>
<rect x="1392" y="249" width="11" height="36" fill="#000"/>
<rect x="1393" y="250" width="9" height="34" fill="#00ff00"/>
<rect x="1413" y="242" width="1" height="67" fill="#000"/>
<rect x="1408" y="284" width="11" height="4" fill="#000"/>
<rect x="1409" y="285" width="9" height="2" fill="#00ff00"/>
<rect x="1429" y="260" width="1" height="33" fill="#000"/>
<rect x="1424" y="266" width="11" height="22" fill="#000"/>
<rect x="1425" y="267" width="9" height="20" fill="#ff0000"/>
<rect x="1445" y="265" width="1" height="11" fill="#000"/>
<rect x="1440" y="267" width="11" height="6" fill="#000"/>
<rect x="1441" y="268" width="9" height="4" fill="#00ff00"/>
</g>
<rect x="1645" y="30" width="2" height="1" fill="#000" shape-rendering="crispEdges"/>
<text x="1650" y="34" font-size="10" fill="#000" stroke="#000" stroke-width="0.25" textLength="33" lengthAdjust="spacingAndGlyphs">0.69080</text>
<rect x="1645" y="63" width="2" height="1" fill="#000" shape-rendering="crispEdges"/>
<text x="1650" y="67" font-size="10" fill="#000" stroke="#000" stroke-width="0.25" textLength="33" lengthAdjust="spacingAndGlyphs">0.68890</text>
<rect x="1645" y="96" width="2" height="1" fill="#000" shape-rendering="crispEdges"/>
<text x="1650" y="100" font-size="10" fill="#000" stroke="#000" stroke-width="0.25" textLength="33" lengthAdjust="spacingAndGlyphs">0.68705</text>
<rect x="1645" y="129" width="2" height="1" fill="#000" shape-rendering="crispEdges"/>
<text x="1650" y="133" font-size="10" fill="#000" stroke="#000" stroke-width="0.25" textLength="33" lengthAdjust="spacingAndGlyphs">0.68515</text>
<rect x="1645" y="162" width="2" height="1" fill="#000" shape-rendering="crispEdges"/>
<text x="1650" y="166" font-size="10" fill="#000" stroke="#000" stroke-width="0.25" textLength="33" lengthAdjust="spacingAndGlyphs">0.68325</text>
<rect x="1645" y="195" width="2" height="1" fill="#000" shape-rendering="crispEdges"/>
<text x="1650" y="199" font-size="10" fill="#000" stroke="#000" stroke-width="0.25" textLength="33" lengthAdjust="spacingAndGlyphs">0.68140</text>
<rect x="1645" y="228" width="2" height="1" fill="#000" shape-rendering="crispEdges"/>
<text x="1650" y="232" font-size="10" fill="#000" stroke="#000" stroke-width="0.25" textLength="33" lengthAdjust="spacingAndGlyphs">0.67950</text>
<rect x="1645" y="261" width="2" height="1" fill="#000" shape-rendering="crispEdges"/>
<text x="1650" y="265" font-size="10" fill="#000" stroke="#000" stroke-width="0.25" textLength="33" lengthAdjust="spacingAndGlyphs">0.67760</text>
<rect x="1645" y="294" width="2" height="1" fill="#000" shape-rendering="crispEdges"/>
<text x="1650" y="298" font-size="10" fill="#000" stroke="#000" stroke-width="0.25" textLength="33" lengthAdjust="spacingAndGlyphs">0.67570</text>
<rect x="1645" y="327" width="2" height="1" fill="#000" shape-rendering="crispEdges"/>
<text x="1650" y="331" font-size="10" fill="#000" stroke="#000" stroke-width="0.25" textLength="33" lengthAdjust="spacingAndGlyphs">0.67385</text>
<rect x="1645" y="360" width="2" height="1" fill="#000" shape-rendering="crispEdges"/>
<text x="1650" y="364" font-size="10" fill="#000" stroke="#000" stroke-width="0.25" textLength="33" lengthAdjust="spacingAndGlyphs">0.67195</text>
<rect x="1645" y="393" width="2" height="1" fill="#000" shape-rendering="crispEdges"/>
<text x="1650" y="397" font-size="10" fill="#000" stroke="#000" stroke-width="0.25" textLength="33" lengthAdjust="spacingAndGlyphs">0.67005</text>
<rect x="1645" y="426" width="2" height="1" fill="#000" shape-rendering="crispEdges"/>
<text x="1650" y="430" font-size="10" fill="#000" stroke="#000" stroke-width="0.25" textLength="33" lengthAdjust="spacingAndGlyphs">0.66815</text>
<rect x="1645" y="459" width="2" height="1" fill="#000" shape-rendering="crispEdges"/>
<text x="1650" y="463" font-size="10" fill="#000" stroke="#000" stroke-width="0.25" textLength="33" lengthAdjust="spacingAndGlyphs">0.66630</text>
<rect x="1645" y="492" width="2" height="1" fill="#000" shape-rendering="crispEdges"/>
<text x="1650" y="496" font-size="10" fill="#000" stroke="#000" stroke-width="0.25" textLength="33" lengthAdjust="spacingAndGlyphs">0.66440</text>
<rect x="1645" y="525" width="2" height="1" fill="#000" shape-rendering="crispEdges"/>
<text x="1650" y="529" font-size="10" fill="#000" stroke="#000" stroke-width="0.25" textLength="33" lengthAdjust="spacingAndGlyphs">0.66250</text>
<rect x="1645" y="558" width="2" height="1" fill="#000" shape-rendering="crispEdges"/>
<text x="1650" y="562" font-size="10" fill="#000" stroke="#000" stroke-width="0.25" textLength="33" lengthAdjust="spacingAndGlyphs">0.66065</text>
<rect x="1645" y="591" width="2" height="1" fill="#000" shape-rendering="crispEdges"/>
<text x="1650" y="595" font-size="10" fill="#000" stroke="#000" stroke-width="0.25" textLength="33" lengthAdjust="spacingAndGlyphs">0.65875</text>
<g shape-rendering="crispEdges">
<rect x="4" y="187" width="1642" height="2" fill="#ff0000"/>
<rect x="4" y="185" width="6" height="6" fill="#ff0000"/>
<rect x="6" y="187" width="2" height="2" fill="#fff"/>
<rect x="1638" y="185" width="6" height="6" fill="#ff0000"/>
<rect x="1640" y="187" width="2" height="2" fill="#fff"/>
<rect x="1646" y="182" width="41" height="11" fill="#ff0000"/>
<rect x="4" y="218" width="1642" height="2" fill="#ff0000"/>
<rect x="4" y="216" width="6" height="6" fill="#ff0000"/>
<rect x="6" y="218" width="2" height="2" fill="#fff"/>
<rect x="1638" y="216" width="6" height="6" fill="#ff0000"/>
<rect x="1640" y="218" width="2" height="2" fill="#fff"/>
<rect x="1646" y="213" width="41" height="11" fill="#ff0000"/>
<rect x="4" y="251" width="1642" height="2" fill="#cd853f"/>
<rect x="4" y="249" width="6" height="6" fill="#cd853f"/>
<rect x="6" y="251" width="2" height="2" fill="#fff"/>
<rect x="1638" y="249" width="6" height="6" fill="#cd853f"/>
<rect x="1640" y="251" width="2" height="2" fill="#fff"/>
<rect x="1646" y="246" width="41" height="11" fill="#cd853f"/>
<rect x="4" y="302" width="1642" height="2" fill="#0000ff"/>
<rect x="4" y="300" width="6" height="6" fill="#0000ff"/>
<rect x="6" y="302" width="2" height="2" fill="#fff"/>
<rect x="1638" y="300" width="6" height="6" fill="#0000ff"/>
<rect x="1640" y="302" width="2" height="2" fill="#fff"/>
<rect x="1646" y="297" width="41" height="11" fill="#0000ff"/>
<rect x="4" y="335" width="1642" height="2" fill="#0000ff"/>
<rect x="4" y="333" width="6" height="6" fill="#0000ff"/>
<rect x="6" y="335" width="2" height="2" fill="#fff"/>
<rect x="1638" y="333" width="6" height="6" fill="#0000ff"/>
<rect x="1640" y="335" width="2" height="2" fill="#fff"/>
<rect x="1646" y="330" width="41" height="11" fill="#0000ff"/>
<rect x="1646" y="267" width="41" height="11" fill="#000"/>
</g>
<text x="1650" y="191" font-size="10" fill="#fff" stroke="#fff" stroke-width="0.25" textLength="33" lengthAdjust="spacingAndGlyphs">0.68177</text>
<text x="1650" y="222" font-size="10" fill="#fff" stroke="#fff" stroke-width="0.25" textLength="33" lengthAdjust="spacingAndGlyphs">0.68002</text>
<text x="1650" y="255" font-size="10" fill="#fff" stroke="#fff" stroke-width="0.25" textLength="33" lengthAdjust="spacingAndGlyphs">0.67811</text>
<text x="1650" y="306" font-size="10" fill="#fff" stroke="#fff" stroke-width="0.25" textLength="33" lengthAdjust="spacingAndGlyphs">0.67523</text>
<text x="1650" y="339" font-size="10" fill="#fff" stroke="#fff" stroke-width="0.25" textLength="33" lengthAdjust="spacingAndGlyphs">0.67332</text>
<text x="1650" y="276" font-size="10" fill="#fff" stroke="#fff" stroke-width="0.25" textLength="33" lengthAdjust="spacingAndGlyphs">0.67696</text>
<line x1="1426.7" y1="157.7" x2="1481" y2="184.4" stroke="#4e9a2b" stroke-width="2.8"/>
<polygon points="1482.6,176.7 1474.3,192.9 1494.6,192.9" fill="#4e9a2b"/>
<polygon points="8,34 15,34 11.5,38" fill="#000" shape-rendering="crispEdges"/>
<text x="20.5" y="39" font-size="10" fill="#000" stroke="#000" stroke-width="0.25" textLength="58" lengthAdjust="spacingAndGlyphs">AUDUSD-,H4</text>
<text x="85.0" y="39" font-size="10" fill="#000" stroke="#000" stroke-width="0.25" textLength="32.8" lengthAdjust="spacingAndGlyphs">0.67729</text>
<text x="121.1" y="39" font-size="10" fill="#000" stroke="#000" stroke-width="0.25" textLength="32.8" lengthAdjust="spacingAndGlyphs">0.67737</text>
<text x="157.2" y="39" font-size="10" fill="#000" stroke="#000" stroke-width="0.25" textLength="32.8" lengthAdjust="spacingAndGlyphs">0.67683</text>
<text x="193.3" y="39" font-size="10" fill="#000" stroke="#000" stroke-width="0.25" textLength="32.8" lengthAdjust="spacingAndGlyphs">0.67696</text>
<g shape-rendering="crispEdges">
<rect x="5" y="670" width="2" height="40" fill="#00ff00"/>
<rect x="20" y="670" width="3" height="41" fill="#00ff00"/>
<rect x="36" y="670" width="3" height="40" fill="#00ff00"/>
<rect x="52" y="670" width="3" height="37" fill="#00ff00"/>
<rect x="68" y="670" width="3" height="35" fill="#00ff00"/>
<rect x="84" y="670" width="3" height="34" fill="#00ff00"/>
<rect x="100" y="670" width="3" height="33" fill="#00ff00"/>
<rect x="116" y="670" width="3" height="31" fill="#00ff00"/>
<rect x="132" y="670" width="3" height="28" fill="#00ff00"/>
<rect x="148" y="670" width="3" height="28" fill="#00ff00"/>
<rect x="164" y="670" width="3" height="22" fill="#00ff00"/>
<rect x="180" y="670" width="3" height="18" fill="#00ff00"/>
<rect x="196" y="670" width="3" height="15" fill="#00ff00"/>
<rect x="212" y="670" width="3" height="12" fill="#00ff00"/>
<rect x="228" y="670" width="3" height="11" fill="#00ff00"/>
<rect x="244" y="670" width="3" height="10" fill="#00ff00"/>
<rect x="260" y="670" width="3" height="6" fill="#00ff00"/>
<rect x="276" y="670" width="3" height="4" fill="#00ff00"/>
<rect x="292" y="670" width="3" height="2" fill="#00ff00"/>
<rect x="308" y="669" width="3" height="1" fill="#00ff00"/>
<rect x="324" y="667" width="3" height="3" fill="#00ff00"/>
<rect x="340" y="665" width="3" height="5" fill="#00ff00"/>
<rect x="356" y="662" width="3" height="8" fill="#00ff00"/>
<rect x="372" y="660" width="3" height="10" fill="#00ff00"/>
<rect x="388" y="659" width="3" height="11" fill="#00ff00"/>
<rect x="404" y="660" width="3" height="10" fill="#00ff00"/>
<rect x="420" y="660" width="3" height="10" fill="#00ff00"/>
<rect x="436" y="662" width="3" height="8" fill="#00ff00"/>
<rect x="452" y="664" width="3" height="6" fill="#00ff00"/>
<rect x="468" y="667" width="3" height="3" fill="#00ff00"/>
<rect x="484" y="668" width="3" height="2" fill="#00ff00"/>
<rect x="500" y="669" width="3" height="1" fill="#00ff00"/>
<rect x="516" y="670" width="3" height="1" fill="#00ff00"/>
<rect x="532" y="668" width="3" height="2" fill="#00ff00"/>
<rect x="548" y="670" width="3" height="4" fill="#00ff00"/>
<rect x="564" y="670" width="3" height="7" fill="#00ff00"/>
<rect x="580" y="670" width="3" height="9" fill="#00ff00"/>
<rect x="596" y="670" width="3" height="10" fill="#00ff00"/>
<rect x="612" y="670" width="3" height="11" fill="#00ff00"/>
<rect x="628" y="670" width="3" height="12" fill="#00ff00"/>
<rect x="644" y="670" width="3" height="5" fill="#00ff00"/>
<rect x="660" y="670" width="3" height="3" fill="#00ff00"/>
<rect x="676" y="669" width="3" height="1" fill="#00ff00"/>
<rect x="692" y="668" width="3" height="2" fill="#00ff00"/>
<rect x="708" y="670" width="3" height="1" fill="#00ff00"/>
<rect x="724" y="670" width="3" height="2" fill="#00ff00"/>
<rect x="740" y="670" width="3" height="1" fill="#00ff00"/>
<rect x="756" y="669" width="3" height="1" fill="#00ff00"/>
<rect x="772" y="667" width="3" height="3" fill="#00ff00"/>
<rect x="788" y="666" width="3" height="4" fill="#00ff00"/>
<rect x="804" y="665" width="3" height="5" fill="#00ff00"/>
<rect x="820" y="666" width="3" height="4" fill="#00ff00"/>
<rect x="836" y="667" width="3" height="3" fill="#00ff00"/>
<rect x="852" y="665" width="3" height="5" fill="#00ff00"/>
<rect x="868" y="664" width="3" height="6" fill="#00ff00"/>
<rect x="884" y="660" width="3" height="10" fill="#00ff00"/>
<rect x="900" y="660" width="3" height="10" fill="#00ff00"/>
<rect x="916" y="660" width="3" height="10" fill="#00ff00"/>
<rect x="932" y="652" width="3" height="18" fill="#00ff00"/>
<rect x="948" y="645" width="3" height="25" fill="#00ff00"/>
<rect x="964" y="639" width="3" height="31" fill="#00ff00"/>
<rect x="980" y="633" width="3" height="37" fill="#00ff00"/>
<rect x="996" y="626" width="3" height="44" fill="#00ff00"/>
<rect x="1012" y="620" width="3" height="50" fill="#00ff00"/>
<rect x="1028" y="614" width="3" height="56" fill="#00ff00"/>
<rect x="1044" y="609" width="3" height="61" fill="#00ff00"/>
<rect x="1060" y="605" width="3" height="65" fill="#00ff00"/>
<rect x="1076" y="603" width="3" height="67" fill="#00ff00"/>
<rect x="1092" y="603" width="3" height="67" fill="#00ff00"/>
<rect x="1108" y="605" width="3" height="65" fill="#00ff00"/>
<rect x="1124" y="610" width="3" height="60" fill="#00ff00"/>
<rect x="1140" y="614" width="3" height="56" fill="#00ff00"/>
<rect x="1156" y="619" width="3" height="51" fill="#00ff00"/>
<rect x="1172" y="625" width="3" height="45" fill="#00ff00"/>
<rect x="1188" y="630" width="3" height="40" fill="#00ff00"/>
<rect x="1204" y="635" width="3" height="35" fill="#00ff00"/>
<rect x="1220" y="638" width="3" height="32" fill="#00ff00"/>
<rect x="1236" y="641" width="3" height="29" fill="#00ff00"/>
<rect x="1252" y="645" width="3" height="25" fill="#00ff00"/>
<rect x="1268" y="646" width="3" height="24" fill="#00ff00"/>
<rect x="1284" y="650" width="3" height="20" fill="#00ff00"/>
<rect x="1300" y="653" width="3" height="17" fill="#00ff00"/>
<rect x="1316" y="654" width="3" height="16" fill="#00ff00"/>
<rect x="1332" y="656" width="3" height="14" fill="#00ff00"/>
<rect x="1348" y="658" width="3" height="12" fill="#00ff00"/>
<rect x="1364" y="661" width="3" height="9" fill="#00ff00"/>
<rect x="1380" y="665" width="3" height="5" fill="#00ff00"/>
<rect x="1396" y="669" width="3" height="1" fill="#00ff00"/>
<rect x="1412" y="670" width="3" height="4" fill="#00ff00"/>
<rect x="1428" y="670" width="3" height="6" fill="#00ff00"/>
<rect x="1444" y="670" width="3" height="7" fill="#00ff00"/>
<polyline points="5,702.0 21,702.5 37,704.0 53,705.5 69,705.5 85,705.5 101,705.5 117,705.5 133,704.5 149,703.5 165,701.5 181,699.0 197,696.5 213,693.5 229,691.0 245,688.5 261,685.5 277,682.5 293,680.0 309,677.5 325,675.5 341,673.0 357,671.0 373,669.0 389,667.5 405,665.5 421,664.0 437,663.0 453,662.0 469,662.0 485,663.0 501,663.0 517,664.5 533,665.0 549,667.0 565,668.5 581,670.0 597,671.0 613,673.0 629,675.0 645,676.0 661,676.0 677,676.0 693,676.0 709,675.0 725,674.0 741,673.0 757,671.5 773,670.0 789,669.0 805,668.0 821,668.0 837,668.0 853,668.0 869,668.0 885,666.0 901,665.0 917,665.0 933,662.5 949,661.0 965,657.5 981,653.5 997,649.5 1013,645.0 1029,639.5 1045,633.5 1061,627.5 1077,622.5 1093,617.5 1109,613.5 1125,611.5 1141,609.5 1157,609.0 1173,610.5 1189,613.5 1205,616.5 1221,619.5 1237,623.5 1253,629.0 1269,633.5 1285,636.5 1301,640.0 1317,643.5 1333,646.0 1349,649.5 1365,652.5 1381,654.0 1397,657.5 1413,660.5 1429,663.5 1446,665.0" fill="none" stroke="#ff0000" stroke-width="2"/>
<rect x="1645" y="670" width="1" height="1" fill="#000"/>
<rect x="1645" y="715" width="1" height="1" fill="#000"/>
<rect x="1645" y="720" width="1" height="1" fill="#000"/>
<rect x="1645" y="825" width="1" height="1" fill="#000"/>
</g>
<text x="9.5" y="609" font-size="10" fill="#000" stroke="#000" stroke-width="0.25" textLength="150.5" lengthAdjust="spacingAndGlyphs">MACD(12,26,9) -0.000536 0.000403</text>
<text x="1648.3" y="607" font-size="10" fill="#000" stroke="#000" stroke-width="0.25" textLength="37.5" lengthAdjust="spacingAndGlyphs">0.006245</text>
<text x="1648.3" y="674" font-size="10" fill="#000" stroke="#000" stroke-width="0.25" textLength="17.5" lengthAdjust="spacingAndGlyphs">0.00</text>
<text x="1648.3" y="713" font-size="10" fill="#000" stroke="#000" stroke-width="0.25" textLength="40.5" lengthAdjust="spacingAndGlyphs">-0.003932</text>
<g shape-rendering="crispEdges">
<line x1="6" y1="741.5" x2="1644" y2="741.5" stroke="#000" stroke-width="1" stroke-dasharray="3 3"/>
<line x1="6" y1="772.5" x2="1644" y2="772.5" stroke="#000" stroke-width="1" stroke-dasharray="3 3"/>
<line x1="6" y1="810.5" x2="1644" y2="810.5" stroke="#000" stroke-width="1" stroke-dasharray="3 3"/>
<polyline points="5,801.0 21,797.0 37,790.5 53,785.5 69,785.0 85,788.5 101,788.5 117,785.0 133,786.0 149,786.0 165,770.0 181,770.0 197,771.0 213,770.0 229,777.0 245,774.5 261,766.0 277,768.0 293,768.0 309,766.5 325,766.0 341,763.0 357,758.0 373,761.5 389,761.5 405,766.5 421,768.0 437,775.5 453,776.0 469,779.0 485,779.5 501,779.5 517,771.0 533,766.0 549,787.0 565,784.0 581,783.0 597,782.5 613,781.5 629,781.0 645,763.5 661,761.5 677,763.5 693,771.0 709,776.5 725,778.0 741,770.0 757,768.0 773,768.0 789,766.0 805,770.0 821,772.5 837,772.5 853,766.5 869,764.5 885,759.0 901,768.0 917,768.0 933,751.0 949,751.0 965,749.5 981,747.0 997,744.5 1013,742.5 1029,741.0 1045,740.0 1061,740.0 1077,740.0 1093,746.5 1109,750.0 1125,759.0 1141,759.0 1157,759.0 1173,768.0 1189,767.0 1205,767.0 1221,766.0 1237,766.0 1253,769.0 1269,766.0 1285,772.0 1301,772.0 1317,769.5 1333,769.5 1349,769.5 1365,779.0 1381,779.0 1397,785.0 1413,785.0 1429,781.0 1446,781.0" fill="none" stroke="#1e90ff" stroke-width="2"/>
<rect x="5" y="827" width="1" height="3" fill="#000"/>
<rect x="69" y="827" width="1" height="3" fill="#000"/>
<rect x="133" y="827" width="1" height="3" fill="#000"/>
<rect x="197" y="827" width="1" height="3" fill="#000"/>
<rect x="261" y="827" width="1" height="3" fill="#000"/>
<rect x="325" y="827" width="1" height="3" fill="#000"/>
<rect x="389" y="827" width="1" height="3" fill="#000"/>
<rect x="453" y="827" width="1" height="3" fill="#000"/>
<rect x="517" y="827" width="1" height="3" fill="#000"/>
<rect x="581" y="827" width="1" height="3" fill="#000"/>
<rect x="645" y="827" width="1" height="3" fill="#000"/>
<rect x="709" y="827" width="1" height="3" fill="#000"/>
<rect x="773" y="827" width="1" height="3" fill="#000"/>
<rect x="837" y="827" width="1" height="3" fill="#000"/>
<rect x="901" y="827" width="1" height="3" fill="#000"/>
<rect x="965" y="827" width="1" height="3" fill="#000"/>
<rect x="1029" y="827" width="1" height="3" fill="#000"/>
<rect x="1093" y="827" width="1" height="3" fill="#000"/>
<rect x="1157" y="827" width="1" height="3" fill="#000"/>
<rect x="1221" y="827" width="1" height="3" fill="#000"/>
<rect x="1285" y="827" width="1" height="3" fill="#000"/>
<rect x="1349" y="827" width="1" height="3" fill="#000"/>
<rect x="1413" y="827" width="1" height="3" fill="#000"/>
</g>
<text x="9.5" y="731" font-size="10" fill="#000" stroke="#000" stroke-width="0.25" textLength="67.5" lengthAdjust="spacingAndGlyphs">RSI(14) 41.8470</text>
<text x="1648.3" y="729" font-size="10" fill="#000" stroke="#000" stroke-width="0.25" textLength="15" lengthAdjust="spacingAndGlyphs">100</text>
<text x="1647" y="745" font-size="10" fill="#000" stroke="#000" stroke-width="0.25" textLength="10.4" lengthAdjust="spacingAndGlyphs">80</text>
<text x="1647" y="776" font-size="10" fill="#000" stroke="#000" stroke-width="0.25" textLength="10.4" lengthAdjust="spacingAndGlyphs">50</text>
<text x="1647" y="814" font-size="10" fill="#000" stroke="#000" stroke-width="0.25" textLength="10.4" lengthAdjust="spacingAndGlyphs">15</text>
<text x="1648.3" y="823" font-size="10" fill="#000" stroke="#000" stroke-width="0.25" textLength="5" lengthAdjust="spacingAndGlyphs">0</text>
<text x="4.2" y="839" font-size="10" fill="#000" stroke="#000" stroke-width="0.25" textLength="49.2" lengthAdjust="spacingAndGlyphs">28 Jun 2023</text>
<text x="68.2" y="839" font-size="10" fill="#000" stroke="#000" stroke-width="0.25" textLength="52.6" lengthAdjust="spacingAndGlyphs">29 Jun 12:00</text>
<text x="132.2" y="839" font-size="10" fill="#000" stroke="#000" stroke-width="0.25" textLength="52.6" lengthAdjust="spacingAndGlyphs">30 Jun 04:00</text>
<text x="196.2" y="839" font-size="10" fill="#000" stroke="#000" stroke-width="0.25" textLength="44.5" lengthAdjust="spacingAndGlyphs">2 Jul 23:00</text>
<text x="260.2" y="839" font-size="10" fill="#000" stroke="#000" stroke-width="0.25" textLength="44.5" lengthAdjust="spacingAndGlyphs">3 Jul 12:00</text>
<text x="324.2" y="839" font-size="10" fill="#000" stroke="#000" stroke-width="0.25" textLength="44.5" lengthAdjust="spacingAndGlyphs">4 Jul 04:00</text>
<text x="388.2" y="839" font-size="10" fill="#000" stroke="#000" stroke-width="0.25" textLength="44.5" lengthAdjust="spacingAndGlyphs">4 Jul 20:00</text>
<text x="452.2" y="839" font-size="10" fill="#000" stroke="#000" stroke-width="0.25" textLength="44.5" lengthAdjust="spacingAndGlyphs">5 Jul 12:00</text>
<text x="516.2" y="839" font-size="10" fill="#000" stroke="#000" stroke-width="0.25" textLength="44.5" lengthAdjust="spacingAndGlyphs">6 Jul 04:00</text>
<text x="580.2" y="839" font-size="10" fill="#000" stroke="#000" stroke-width="0.25" textLength="44.5" lengthAdjust="spacingAndGlyphs">6 Jul 20:00</text>
<text x="644.2" y="839" font-size="10" fill="#000" stroke="#000" stroke-width="0.25" textLength="44.5" lengthAdjust="spacingAndGlyphs">7 Jul 12:00</text>
<text x="708.2" y="839" font-size="10" fill="#000" stroke="#000" stroke-width="0.25" textLength="50" lengthAdjust="spacingAndGlyphs">10 Jul 04:00</text>
<text x="772.2" y="839" font-size="10" fill="#000" stroke="#000" stroke-width="0.25" textLength="50" lengthAdjust="spacingAndGlyphs">10 Jul 20:00</text>
<text x="836.2" y="839" font-size="10" fill="#000" stroke="#000" stroke-width="0.25" textLength="50" lengthAdjust="spacingAndGlyphs">11 Jul 12:00</text>
<text x="900.2" y="839" font-size="10" fill="#000" stroke="#000" stroke-width="0.25" textLength="50" lengthAdjust="spacingAndGlyphs">12 Jul 04:00</text>
<text x="964.2" y="839" font-size="10" fill="#000" stroke="#000" stroke-width="0.25" textLength="50" lengthAdjust="spacingAndGlyphs">12 Jul 20:00</text>
<text x="1028.2" y="839" font-size="10" fill="#000" stroke="#000" stroke-width="0.25" textLength="50" lengthAdjust="spacingAndGlyphs">13 Jul 12:00</text>
<text x="1092.2" y="839" font-size="10" fill="#000" stroke="#000" stroke-width="0.25" textLength="50" lengthAdjust="spacingAndGlyphs">14 Jul 04:00</text>
<text x="1156.2" y="839" font-size="10" fill="#000" stroke="#000" stroke-width="0.25" textLength="50" lengthAdjust="spacingAndGlyphs">16 Jul 23:00</text>
<text x="1220.2" y="839" font-size="10" fill="#000" stroke="#000" stroke-width="0.25" textLength="50" lengthAdjust="spacingAndGlyphs">17 Jul 12:00</text>
<text x="1284.2" y="839" font-size="10" fill="#000" stroke="#000" stroke-width="0.25" textLength="50" lengthAdjust="spacingAndGlyphs">18 Jul 04:00</text>
<text x="1348.2" y="839" font-size="10" fill="#000" stroke="#000" stroke-width="0.25" textLength="50" lengthAdjust="spacingAndGlyphs">18 Jul 20:00</text>
<text x="1412.2" y="839" font-size="10" fill="#000" stroke="#000" stroke-width="0.25" textLength="50" lengthAdjust="spacingAndGlyphs">19 Jul 12:00</text>
</svg></body></html>
